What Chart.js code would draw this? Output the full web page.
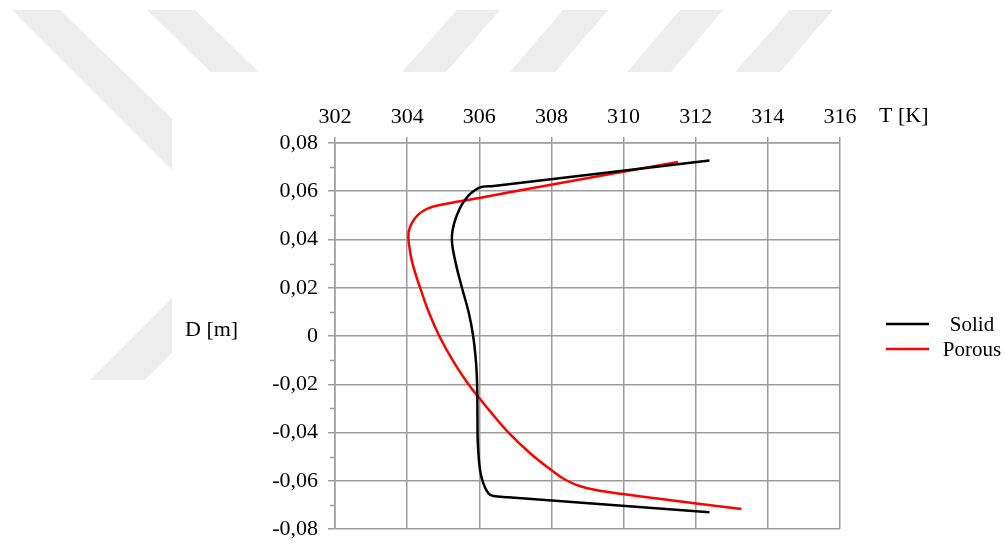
<!DOCTYPE html>
<html>
<head>
<meta charset="utf-8">
<script src="https://cdn.jsdelivr.net/npm/chart.js@4/dist/chart.umd.min.js"></script>
<style>
  html, body { margin: 0; padding: 0; background: #ffffff; }
  #wrap { width: 1005px; height: 544px; position: relative; }
</style>
</head>
<body>
<div id="wrap"><canvas id="c" width="1005" height="544"></canvas></div>
<script>
// Temperature profile across the channel depth
const tempTicks  = [302, 304, 306, 308, 310, 312, 314, 316];
const depthTicks = [-0.08, -0.06, -0.04, -0.02, 0, 0.02, 0.04, 0.06, 0.08];
const seriesNames = ['Solid', 'Porous'];

const solidT = [312.38, 306.40, 306.00, 305.60, 305.33, 305.24, 305.35, 305.52, 305.71, 305.83, 305.91, 305.94, 305.95, 305.96, 306.02, 306.11, 306.25, 306.39, 306.80, 312.38];
const solidD = [0.0727, 0.0622, 0.0615, 0.0564, 0.0480, 0.0400, 0.0300, 0.0200, 0.0095, 0.0000, -0.0110, -0.0200, -0.0340, -0.0445, -0.0555, -0.0610, -0.0652, -0.0663, -0.0668, -0.0731];

const porousT = [311.51, 307.68, 306.00, 304.91, 304.55, 304.30, 304.13, 304.04, 304.05, 304.15, 304.36, 304.61, 304.89, 305.28, 305.70, 305.97, 306.37, 306.79, 307.41, 308.05, 308.40, 308.80, 309.30, 309.98, 311.10, 313.27];
const porousD = [0.0721, 0.0619, 0.0572, 0.0543, 0.0527, 0.0502, 0.0468, 0.0430, 0.0380, 0.0300, 0.0200, 0.0095, 0.0000, -0.0105, -0.0200, -0.0252, -0.0325, -0.0397, -0.0486, -0.0562, -0.0597, -0.0623, -0.0640, -0.0655, -0.0677, -0.0717];

const FONT = 'Liberation Serif, Times New Roman, serif';
const GRID = '#9c9c9c';

function toPoints(xs, ys) { return xs.map((x, i) => ({ x: x, y: ys[i] })); }
function commaFmt(v) {
  if (Math.abs(v) < 1e-9) return '0';
  return v.toFixed(2).replace('.', ',');
}

// Light diagonal background bands, covered by the white plot panel
const backdrop = {
  id: 'backdrop',
  beforeDraw(chart) {
    const ctx = chart.ctx;
    ctx.save();
    ctx.fillStyle = '#ffffff';
    ctx.fillRect(0, 0, chart.width, chart.height);
    ctx.fillStyle = '#ededed';
    const bands = [
      [[12, 10], [60, 10], [400, 340], [352, 350]],
      [[147, 10], [195, 10], [400, 210], [352, 210]],
      [[90, 380], [145, 380], [345, 180], [290, 180]],
      [[457, 10], [500, 10], [446, 72], [402, 72]],
      [[563, 10], [608, 10], [555, 72], [510, 72]],
      [[680, 10], [723, 10], [671, 72], [627, 72]],
      [[790, 10], [833, 10], [780, 72], [735, 72]]
    ];
    bands.forEach(b => {
      ctx.beginPath();
      ctx.moveTo(b[0][0], b[0][1]);
      for (let i = 1; i < b.length; i++) ctx.lineTo(b[i][0], b[i][1]);
      ctx.closePath();
      ctx.fill();
    });
    ctx.fillStyle = '#ffffff';
    ctx.fillRect(172, 72, chart.width - 172, chart.height - 72);
    ctx.restore();
  }
};

// Minor ticks, axis titles and the legend
const decorations = {
  id: 'decorations',
  afterDraw(chart) {
    const ctx = chart.ctx;
    const ys = chart.scales.y;
    const area = chart.chartArea;
    ctx.save();
    ctx.strokeStyle = GRID;
    ctx.lineWidth = 1.5;
    for (let i = 0; i < depthTicks.length - 1; i++) {
      const v = (depthTicks[i] + depthTicks[i + 1]) / 2;
      const py = Math.round(ys.getPixelForValue(v)) + 0.5;
      ctx.beginPath();
      ctx.moveTo(area.left - 5, py);
      ctx.lineTo(area.left, py);
      ctx.stroke();
    }

    ctx.fillStyle = '#000000';
    ctx.font = '22px ' + FONT;
    ctx.textBaseline = 'middle';
    ctx.textAlign = 'left';
    ctx.fillText('T [K]', 879, 116);
    ctx.fillText('D [m]', 185, 330);

    ctx.font = '21px ' + FONT;
    const rows = [324, 349];
    chart.data.datasets.forEach((ds, i) => {
      ctx.strokeStyle = ds.borderColor;
      ctx.lineWidth = 2.5;
      ctx.beginPath();
      ctx.moveTo(886, rows[i]);
      ctx.lineTo(929, rows[i]);
      ctx.stroke();
      ctx.fillStyle = '#000000';
      ctx.textAlign = 'center';
      ctx.fillText(ds.label, 972, rows[i] + 1);
    });
    ctx.restore();
  }
};

new Chart(document.getElementById('c'), {
  type: 'scatter',
  data: {
    datasets: [
      {
        label: seriesNames[0],
        data: toPoints(solidT, solidD),
        showLine: true,
        borderColor: '#000000',
        backgroundColor: '#000000',
        borderWidth: 2.5,
        pointRadius: 0,
        tension: 0.35,
        fill: false
      },
      {
        label: seriesNames[1],
        data: toPoints(porousT, porousD),
        showLine: true,
        borderColor: '#ff0000',
        backgroundColor: '#ff0000',
        borderWidth: 2.5,
        pointRadius: 0,
        tension: 0.4,
        fill: false
      }
    ]
  },
  options: {
    responsive: false,
    animation: false,
    devicePixelRatio: 1,
    layout: { padding: { left: 0, right: 165, top: 0, bottom: 15 } },
    plugins: {
      legend: { display: false },
      tooltip: { enabled: false }
    },
    scales: {
      x: {
        type: 'linear',
        position: 'top',
        min: tempTicks[0],
        max: tempTicks[tempTicks.length - 1],
        afterBuildTicks(scale) { scale.ticks = tempTicks.map(v => ({ value: v })); },
        afterFit(scale) {
          scale.height = 143;
          scale.paddingLeft = 0;
          scale.paddingRight = 0;
        },
        ticks: {
          color: '#000000',
          font: { family: FONT, size: 22 },
          padding: 7,
          maxRotation: 0,
          callback: v => String(v)
        },
        grid: { color: GRID, lineWidth: 1.5, tickLength: 6, drawTicks: true },
        border: { color: GRID, width: 1.5 }
      },
      y: {
        type: 'linear',
        min: depthTicks[0],
        max: depthTicks[depthTicks.length - 1],
        afterBuildTicks(scale) { scale.ticks = depthTicks.map(v => ({ value: v })); },
        afterFit(scale) {
          scale.width = 335;
          scale.paddingTop = 0;
          scale.paddingBottom = 0;
        },
        ticks: {
          color: '#000000',
          font: { family: FONT, size: 22 },
          padding: 10,
          callback: v => commaFmt(v)
        },
        grid: { color: GRID, lineWidth: 1.5, tickLength: 7, drawTicks: true },
        border: { color: GRID, width: 1.5 }
      }
    }
  },
  plugins: [backdrop, decorations]
});
</script>
</body>
</html>
